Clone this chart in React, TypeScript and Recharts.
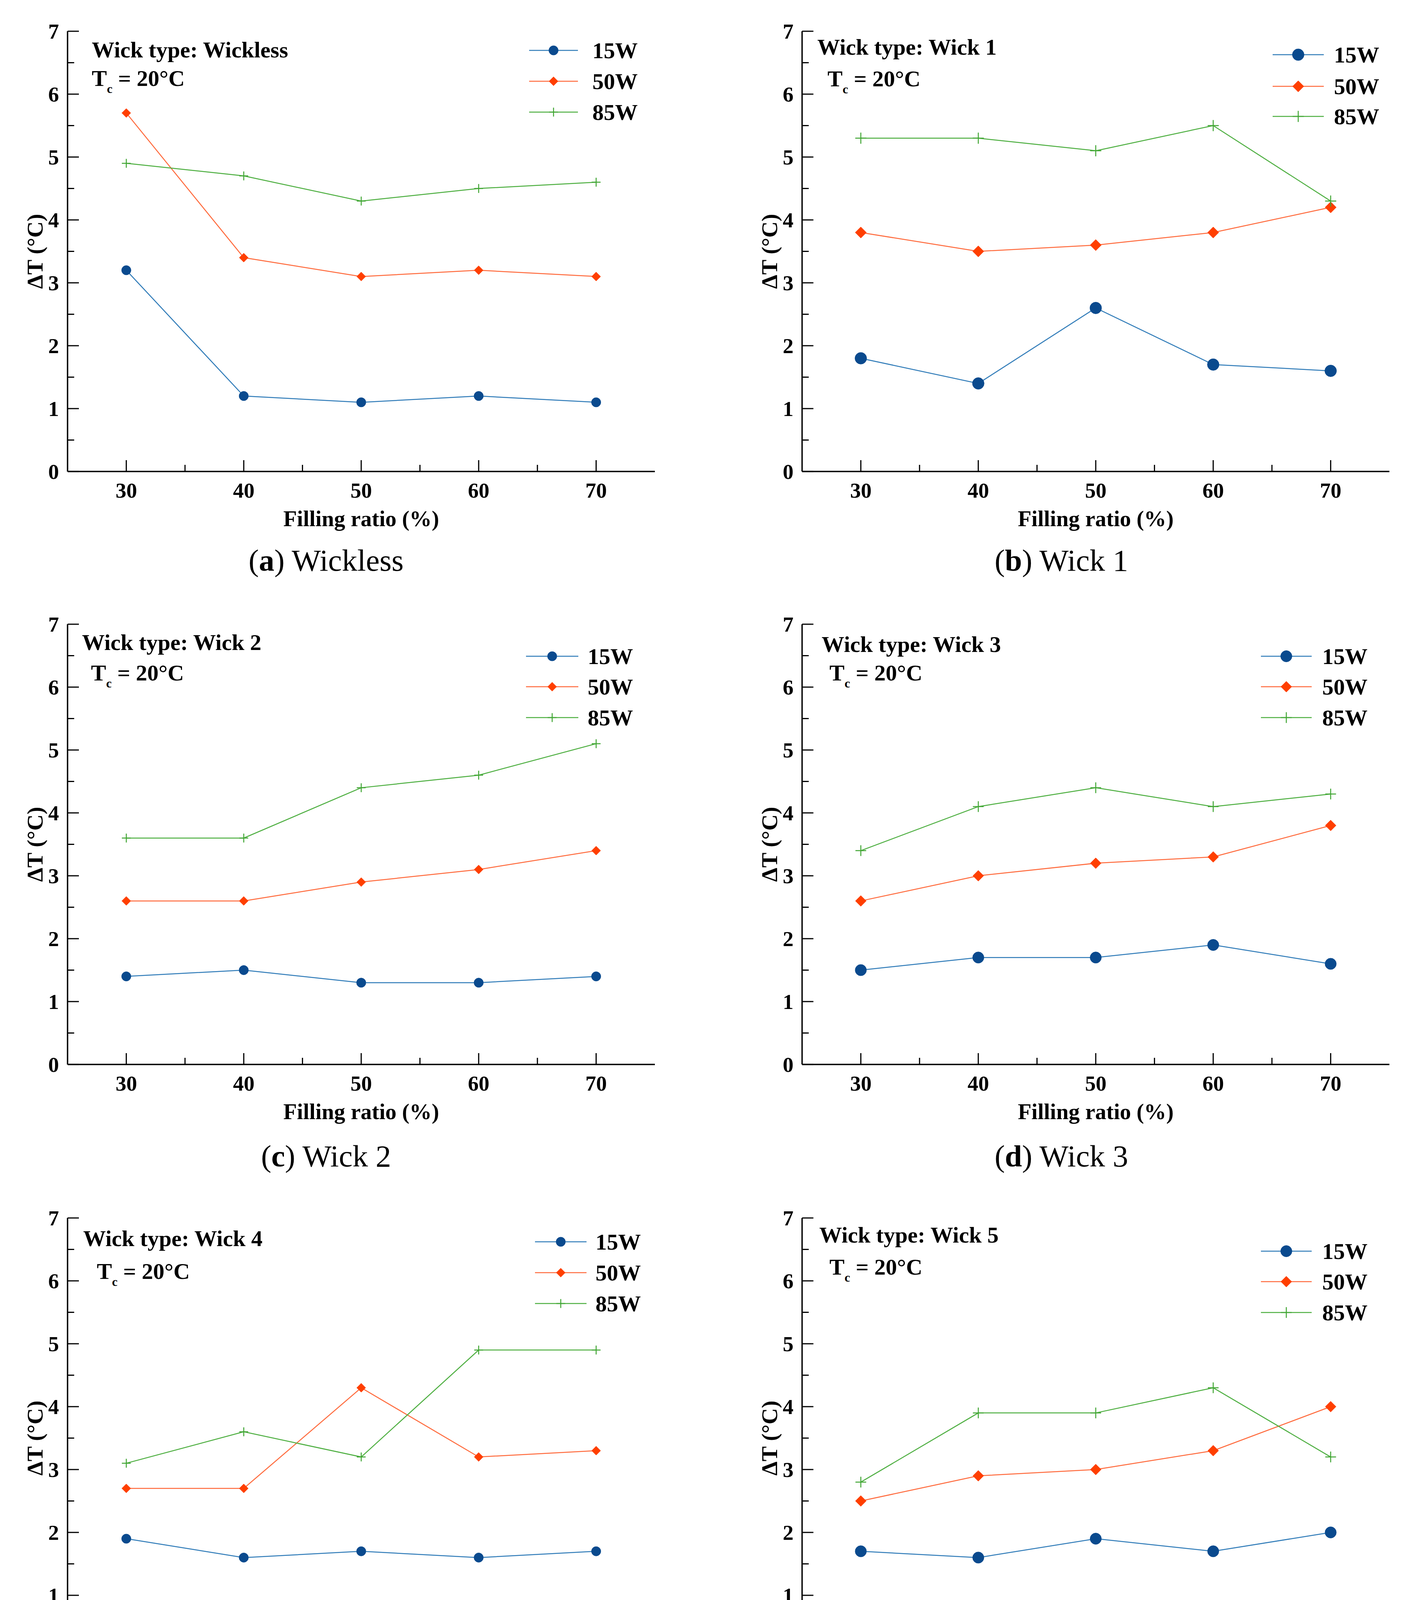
import React from 'react';
import { Legend, Line, LineChart, XAxis, YAxis } from 'recharts';

// filling ratio (%) on the x axis, shared by every panel
const fillingRatios = [30, 40, 50, 60, 70];

// ΔT (°C)
const wickless15W = [3.2, 1.2, 1.1, 1.2, 1.1];
const wickless50W = [5.7, 3.4, 3.1, 3.2, 3.1];
const wickless85W = [4.9, 4.7, 4.3, 4.5, 4.6];

const wick1_15W = [1.8, 1.4, 2.6, 1.7, 1.6];
const wick1_50W = [3.8, 3.5, 3.6, 3.8, 4.2];
const wick1_85W = [5.3, 5.3, 5.1, 5.5, 4.3];

const wick2_15W = [1.4, 1.5, 1.3, 1.3, 1.4];
const wick2_50W = [2.6, 2.6, 2.9, 3.1, 3.4];
const wick2_85W = [3.6, 3.6, 4.4, 4.6, 5.1];

const wick3_15W = [1.5, 1.7, 1.7, 1.9, 1.6];
const wick3_50W = [2.6, 3.0, 3.2, 3.3, 3.8];
const wick3_85W = [3.4, 4.1, 4.4, 4.1, 4.3];

const wick4_15W = [1.9, 1.6, 1.7, 1.6, 1.7];
const wick4_50W = [2.7, 2.7, 4.3, 3.2, 3.3];
const wick4_85W = [3.1, 3.6, 3.2, 4.9, 4.9];

const wick5_15W = [1.7, 1.6, 1.9, 1.7, 2.0];
const wick5_50W = [2.5, 2.9, 3.0, 3.3, 4.0];
const wick5_85W = [2.8, 3.9, 3.9, 4.3, 3.2];

const seriesNames = ['15W', '50W', '85W'];
const xTicks = [30, 35, 40, 45, 50, 55, 60, 65, 70];
const yTicks = [0, 0.5, 1, 1.5, 2, 2.5, 3, 3.5, 4, 4.5, 5, 5.5, 6, 6.5, 7];

const FONT = "'Liberation Serif', 'Times New Roman', serif";

const PLOT_W = 1504;
const PLOT_H = 1127;
const Y_AXIS_W = 170;
const X_AXIS_H = 240;
const MARGIN = { top: 50, right: 20, bottom: 10, left: 3 };
const CHART_W = MARGIN.left + Y_AXIS_W + PLOT_W + MARGIN.right;
const CHART_H = MARGIN.top + PLOT_H + X_AXIS_H + MARGIN.bottom;
const PL = MARGIN.left + Y_AXIS_W; // plot left inside chart
const PT = MARGIN.top;

const SERIES_STYLE = [
  { key: 'w15', line: '#2f7bb8', mark: '#0a4a8e', shape: 'circle' },
  { key: 'w50', line: '#ff6a3c', mark: '#ff3f00', shape: 'diamond' },
  { key: 'w85', line: '#4cae3f', mark: '#3fa532', shape: 'plus' },
];

const COL_X = [173, 2054];
const ROW_Y = [80, 1598, 3118];
const CAPTION_X = [835, 2718];
const CAPTION_Y = [1435, 2960, 4482];

const panels = [
  {
    letter: 'a', title: 'Wickless', wick: 'Wickless', col: 0, row: 0,
    s15: wickless15W, s50: wickless50W, s85: wickless85W, r: 12,
    note: { x: 62, y: 67, tx: 62, ty: 140 },
    lg: { x1: 1182, x2: 1307, tx: 1344, ys: [49, 128, 207] },
  },
  {
    letter: 'b', title: 'Wick 1', wick: 'Wick 1', col: 1, row: 0,
    s15: wick1_15W, s50: wick1_50W, s85: wick1_85W, r: 15,
    note: { x: 39, y: 60, tx: 65, ty: 141 },
    lg: { x1: 1205, x2: 1336, tx: 1362, ys: [60, 141, 218] },
  },
  {
    letter: 'c', title: 'Wick 2', wick: 'Wick 2', col: 0, row: 1,
    s15: wick2_15W, s50: wick2_50W, s85: wick2_85W, r: 12,
    note: { x: 37, y: 66, tx: 60, ty: 144 },
    lg: { x1: 1174, x2: 1308, tx: 1332, ys: [82, 160, 239] },
  },
  {
    letter: 'd', title: 'Wick 3', wick: 'Wick 3', col: 1, row: 1,
    s15: wick3_15W, s50: wick3_50W, s85: wick3_85W, r: 14.5,
    note: { x: 50, y: 71, tx: 70, ty: 144 },
    lg: { x1: 1175, x2: 1305, tx: 1332, ys: [82, 160, 239] },
  },
  {
    letter: 'e', title: 'Wick 4', wick: 'Wick 4', col: 0, row: 2,
    s15: wick4_15W, s50: wick4_50W, s85: wick4_85W, r: 12,
    note: { x: 40, y: 72, tx: 75, ty: 156 },
    lg: { x1: 1197, x2: 1329, tx: 1352, ys: [61, 140, 219] },
  },
  {
    letter: 'f', title: 'Wick 5', wick: 'Wick 5', col: 1, row: 2,
    s15: wick5_15W, s50: wick5_50W, s85: wick5_85W, r: 14.5,
    note: { x: 44, y: 63, tx: 70, ty: 145 },
    lg: { x1: 1175, x2: 1305, tx: 1332, ys: [85, 163, 242] },
  },
];

const marker = (shape: string, cx: number, cy: number, r: number, color: string, key?: string) => {
  if (shape === 'circle') {
    return <circle key={key} cx={cx} cy={cy} r={r} fill={color} stroke={color} strokeWidth={1} />;
  }
  if (shape === 'diamond') {
    const d = r * 0.95;
    return (
      <path
        key={key}
        d={`M${cx},${cy - d}L${cx + d},${cy}L${cx},${cy + d}L${cx - d},${cy}Z`}
        fill={color}
        stroke={color}
        strokeWidth={1}
      />
    );
  }
  const a = r * 0.95;
  return (
    <g key={key}>
      <line x1={cx - a} x2={cx + a} y1={cy} y2={cy} stroke={color} strokeWidth={2.5} />
      <line x1={cx} x2={cx} y1={cy - a} y2={cy + a} stroke={color} strokeWidth={2.5} />
    </g>
  );
};

const XTick = (props: any) => {
  const { x, y, payload } = props;
  const v = payload.value;
  const major = v % 10 === 0;
  return (
    <g>
      <line x1={x} x2={x} y1={y} y2={y - (major ? 29 : 17)} stroke="#000" strokeWidth={3} />
      {major && (
        <text
          x={x}
          y={y + 48}
          textAnchor="middle"
          dominantBaseline="central"
          fontFamily={FONT}
          fontWeight={700}
          fontSize={55}
          fill="#000"
        >
          {v}
        </text>
      )}
    </g>
  );
};

const YTick = (props: any) => {
  const { x, y, payload } = props;
  const v = payload.value;
  const major = Number.isInteger(v);
  return (
    <g>
      <line x1={x} x2={x + (major ? 29 : 17)} y1={y} y2={y} stroke="#000" strokeWidth={3} />
      {major && (
        <text
          x={x - 22}
          y={y}
          textAnchor="end"
          dominantBaseline="central"
          fontFamily={FONT}
          fontWeight={700}
          fontSize={55}
          fill="#000"
        >
          {v}
        </text>
      )}
    </g>
  );
};

const Panel = ({ p }: { p: (typeof panels)[number] }) => {
  const data = fillingRatios.map((ratio, i) => ({
    ratio,
    w15: p.s15[i],
    w50: p.s50[i],
    w85: p.s85[i],
  }));
  const left = COL_X[p.col] - PL;
  const top = ROW_Y[p.row] - PT;

  const legendContent = () => (
    <svg width={CHART_W} height={360} style={{ display: 'block' }}>
      {SERIES_STYLE.map((s, i) => {
        const y = PT + p.lg.ys[i];
        const x1 = PL + p.lg.x1;
        const x2 = PL + p.lg.x2;
        return (
          <g key={s.key}>
            <line x1={x1} x2={x2} y1={y} y2={y} stroke={s.line} strokeWidth={2.5} />
            {marker(s.shape, (x1 + x2) / 2, y, p.r, s.mark)}
            <text
              x={PL + p.lg.tx}
              y={y}
              dominantBaseline="central"
              fontFamily={FONT}
              fontWeight={700}
              fontSize={58}
              fill="#000"
            >
              {seriesNames[i]}
            </text>
          </g>
        );
      })}
    </svg>
  );

  return (
    <>
      <div style={{ position: 'absolute', left, top, width: CHART_W, height: CHART_H }}>
        <LineChart width={CHART_W} height={CHART_H} data={data} margin={MARGIN}>
          <XAxis
            dataKey="ratio"
            type="number"
            domain={[25, 75]}
            ticks={xTicks}
            interval={0}
            allowDataOverflow
            height={X_AXIS_H}
            tickSize={0}
            tickMargin={0}
            tickLine={false}
            tick={<XTick />}
            axisLine={{ stroke: '#000', strokeWidth: 3.5 }}
            label={{
              value: 'Filling ratio (%)',
              position: 'center',
              fontFamily: FONT,
              fontWeight: 700,
              fontSize: 57,
              fill: '#000',
            }}
          />
          <XAxis
            xAxisId="top"
            orientation="top"
            type="number"
            domain={[25, 75]}
            height={0}
            tick={false}
            tickLine={false}
            axisLine={{ stroke: '#000', strokeWidth: 3.5 }}
          />
          <YAxis
            type="number"
            domain={[0, 7]}
            ticks={yTicks}
            interval={0}
            allowDataOverflow
            width={Y_AXIS_W}
            tickSize={0}
            tickMargin={0}
            tickLine={false}
            tick={<YTick />}
            axisLine={{ stroke: '#000', strokeWidth: 3.5 }}
            label={{
              value: 'ΔT (°C)',
              angle: -90,
              position: 'center',
              fontFamily: FONT,
              fontWeight: 700,
              fontSize: 58,
              fill: '#000',
            }}
          />
          <YAxis
            yAxisId="right"
            orientation="right"
            type="number"
            domain={[0, 7]}
            width={0}
            tick={false}
            tickLine={false}
            axisLine={{ stroke: '#000', strokeWidth: 3.5 }}
          />
          <Legend
            layout="vertical"
            align="center"
            verticalAlign="middle"
            wrapperStyle={{ left: 0, top: 0, width: CHART_W, height: 360, pointerEvents: 'none' }}
            content={legendContent}
          />
          {SERIES_STYLE.map((s, i) => (
            <Line
              key={s.key}
              type="linear"
              dataKey={s.key}
              name={seriesNames[i]}
              stroke={s.line}
              strokeWidth={2.5}
              isAnimationActive={false}
              dot={(d: any) => marker(s.shape, d.cx, d.cy, p.r, s.mark, `${s.key}-${d.index}`)}
              activeDot={false}
            />
          ))}
        </LineChart>
        <svg
          width={CHART_W}
          height={360}
          style={{ position: 'absolute', left: 0, top: 0, pointerEvents: 'none' }}
        >
          <text
            x={PL + p.note.x}
            y={PT + p.note.y}
            fontFamily={FONT}
            fontWeight={700}
            fontSize={58}
            fill="#000"
          >
            {`Wick type: ${p.wick}`}
          </text>
          <text
            x={PL + p.note.tx}
            y={PT + p.note.ty}
            fontFamily={FONT}
            fontWeight={700}
            fontSize={58}
            fill="#000"
          >
            T
            <tspan fontSize={32} dy={18}>
              c
            </tspan>
            <tspan dy={-18}>{' = 20°C'}</tspan>
          </text>
        </svg>
      </div>
      <div
        style={{
          position: 'absolute',
          left: CAPTION_X[p.col] - 500,
          top: CAPTION_Y[p.row] - 45,
          width: 1000,
          height: 90,
          lineHeight: '90px',
          textAlign: 'center',
          fontFamily: FONT,
          fontSize: 79,
          color: '#000',
          whiteSpace: 'nowrap',
        }}
      >
        (<b>{p.letter}</b>) {p.title}
      </div>
    </>
  );
};

export default function App() {
  return (
    <div
      style={{
        position: 'relative',
        margin: -8,
        width: 3621,
        height: 4549,
        background: '#fff',
        overflow: 'hidden',
      }}
    >
      {panels.map((p) => (
        <Panel key={p.letter} p={p} />
      ))}
    </div>
  );
}
